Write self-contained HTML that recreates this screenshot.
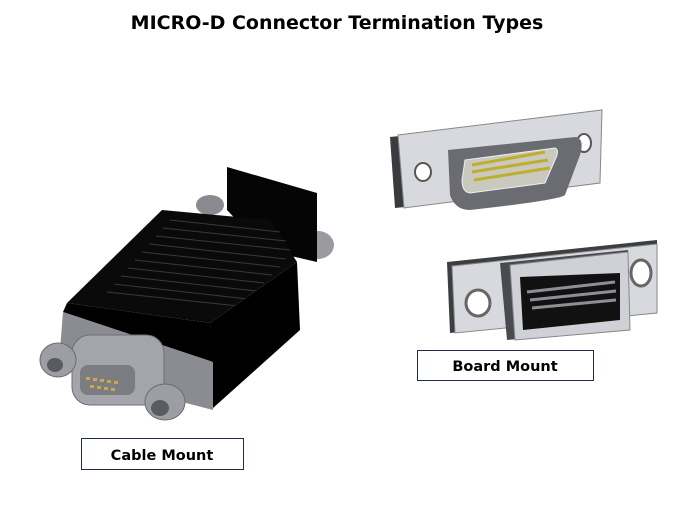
<!DOCTYPE html>
<html><head><style>
body{margin:0;background:#fff;}
svg{display:block;}
</style></head><body>
<svg width="674" height="506" viewBox="0 0 674 506" xmlns="http://www.w3.org/2000/svg" font-family="DejaVu Sans, sans-serif">
<text x="337" y="29" text-anchor="middle" font-weight="bold" font-size="19">MICRO-D Connector Termination Types</text>

<!-- Cable mount -->
<ellipse cx="210" cy="205" rx="14" ry="10" fill="#8a8b90"/>
<ellipse cx="318" cy="245" rx="16" ry="14" fill="#9a9ba0"/>
<polygon points="227,167 317,193 317,262 265,250 227,210" fill="#050505"/>
<polygon points="67,303 162,210 270,220 297,262 210,323" fill="#0a0a0a"/>
<g stroke="#3a3a3a" stroke-width="1">
<line x1="170" y1="220" x2="280" y2="232"/><line x1="163" y1="228" x2="286" y2="241"/>
<line x1="156" y1="236" x2="290" y2="250"/><line x1="149" y1="244" x2="286" y2="259"/>
<line x1="142" y1="252" x2="280" y2="267"/><line x1="135" y1="260" x2="272" y2="275"/>
<line x1="128" y1="268" x2="264" y2="283"/><line x1="121" y1="276" x2="256" y2="291"/>
<line x1="114" y1="284" x2="248" y2="299"/><line x1="107" y1="292" x2="238" y2="306"/>
</g>
<polygon points="210,323 297,262 300,330 213,408" fill="#000"/>
<polygon points="67,303 210,323 213,362 63,312" fill="#000"/>
<polygon points="63,312 213,362 213,410 90,378 60,350" fill="#8b8c92"/>
<rect x="72" y="335" width="92" height="70" rx="18" fill="#a4a5aa" stroke="#6e6f74"/>
<rect x="80" y="365" width="55" height="30" rx="8" fill="#7c7d82"/>
<g fill="#c9a74a"><rect x="86" y="377" width="4" height="3"/><rect x="93" y="378" width="4" height="3"/><rect x="100" y="379" width="4" height="3"/><rect x="107" y="380" width="4" height="3"/><rect x="114" y="381" width="4" height="3"/><rect x="90" y="385" width="4" height="3"/><rect x="97" y="386" width="4" height="3"/><rect x="104" y="387" width="4" height="3"/><rect x="111" y="388" width="4" height="3"/></g>
<ellipse cx="58" cy="360" rx="18" ry="17" fill="#9d9ea3" stroke="#6a6b70"/>
<ellipse cx="55" cy="365" rx="8" ry="7" fill="#5a5b60"/>
<ellipse cx="165" cy="402" rx="20" ry="18" fill="#9d9ea3" stroke="#6a6b70"/>
<ellipse cx="160" cy="408" rx="9" ry="8" fill="#5a5b60"/>

<!-- Board mount top -->
<polygon points="390,137 400,136 405,207 395,208" fill="#3a3b3f"/>
<polygon points="398,135 602,110 600,183 404,208" fill="#d8d9de" stroke="#888"/>
<ellipse cx="423" cy="172" rx="8" ry="9" fill="#fff" stroke="#555" stroke-width="2"/>
<ellipse cx="584" cy="143" rx="7" ry="9" fill="#fff" stroke="#555" stroke-width="2"/>
<path d="M448,150 L575,137 Q585,138 580,155 L565,195 Q560,200 470,210 Q455,210 450,195 Z" fill="#6b6c72"/>
<path d="M465,160 L555,148 Q560,150 555,160 L545,183 L470,193 Q462,192 462,180 Z" fill="#c9c9c0" stroke="#eee"/>
<g stroke="#bfae2b" stroke-width="3"><line x1="472" y1="165" x2="545" y2="152"/><line x1="472" y1="172" x2="548" y2="160"/><line x1="474" y1="180" x2="550" y2="168"/></g>

<!-- Board mount bottom -->
<polygon points="447,262 657,240 657,313 450,333" fill="#3d3e42"/>
<polygon points="452,266 657,244 657,313 455,333" fill="#d8d9de" stroke="#888"/>
<ellipse cx="478" cy="303" rx="12" ry="13" fill="#fff" stroke="#666" stroke-width="3"/>
<ellipse cx="641" cy="273" rx="10" ry="13" fill="#fff" stroke="#666" stroke-width="3"/>
<polygon points="500,263 628,250 630,330 507,340" fill="#4a4b50"/>
<polygon points="510,265 628,252 630,330 515,340" fill="#d0d1d6" stroke="#888"/>
<polygon points="520,277 620,273 620,320 523,330" fill="#111"/>
<g stroke="#8e8f94" stroke-width="3"><line x1="527" y1="292" x2="615" y2="282"/><line x1="530" y1="300" x2="616" y2="291"/><line x1="532" y1="308" x2="616" y2="300"/></g>

<!-- labels -->
<rect x="417.5" y="350.5" width="176" height="30" fill="#fff" stroke="#1f2a44"/>
<text x="505" y="371" text-anchor="middle" font-weight="bold" font-size="14.5">Board Mount</text>
<rect x="81.5" y="438.5" width="162" height="31" fill="#fff" stroke="#1f2a44"/>
<text x="162" y="460" text-anchor="middle" font-weight="bold" font-size="14.5">Cable Mount</text>
</svg>
</body></html>
